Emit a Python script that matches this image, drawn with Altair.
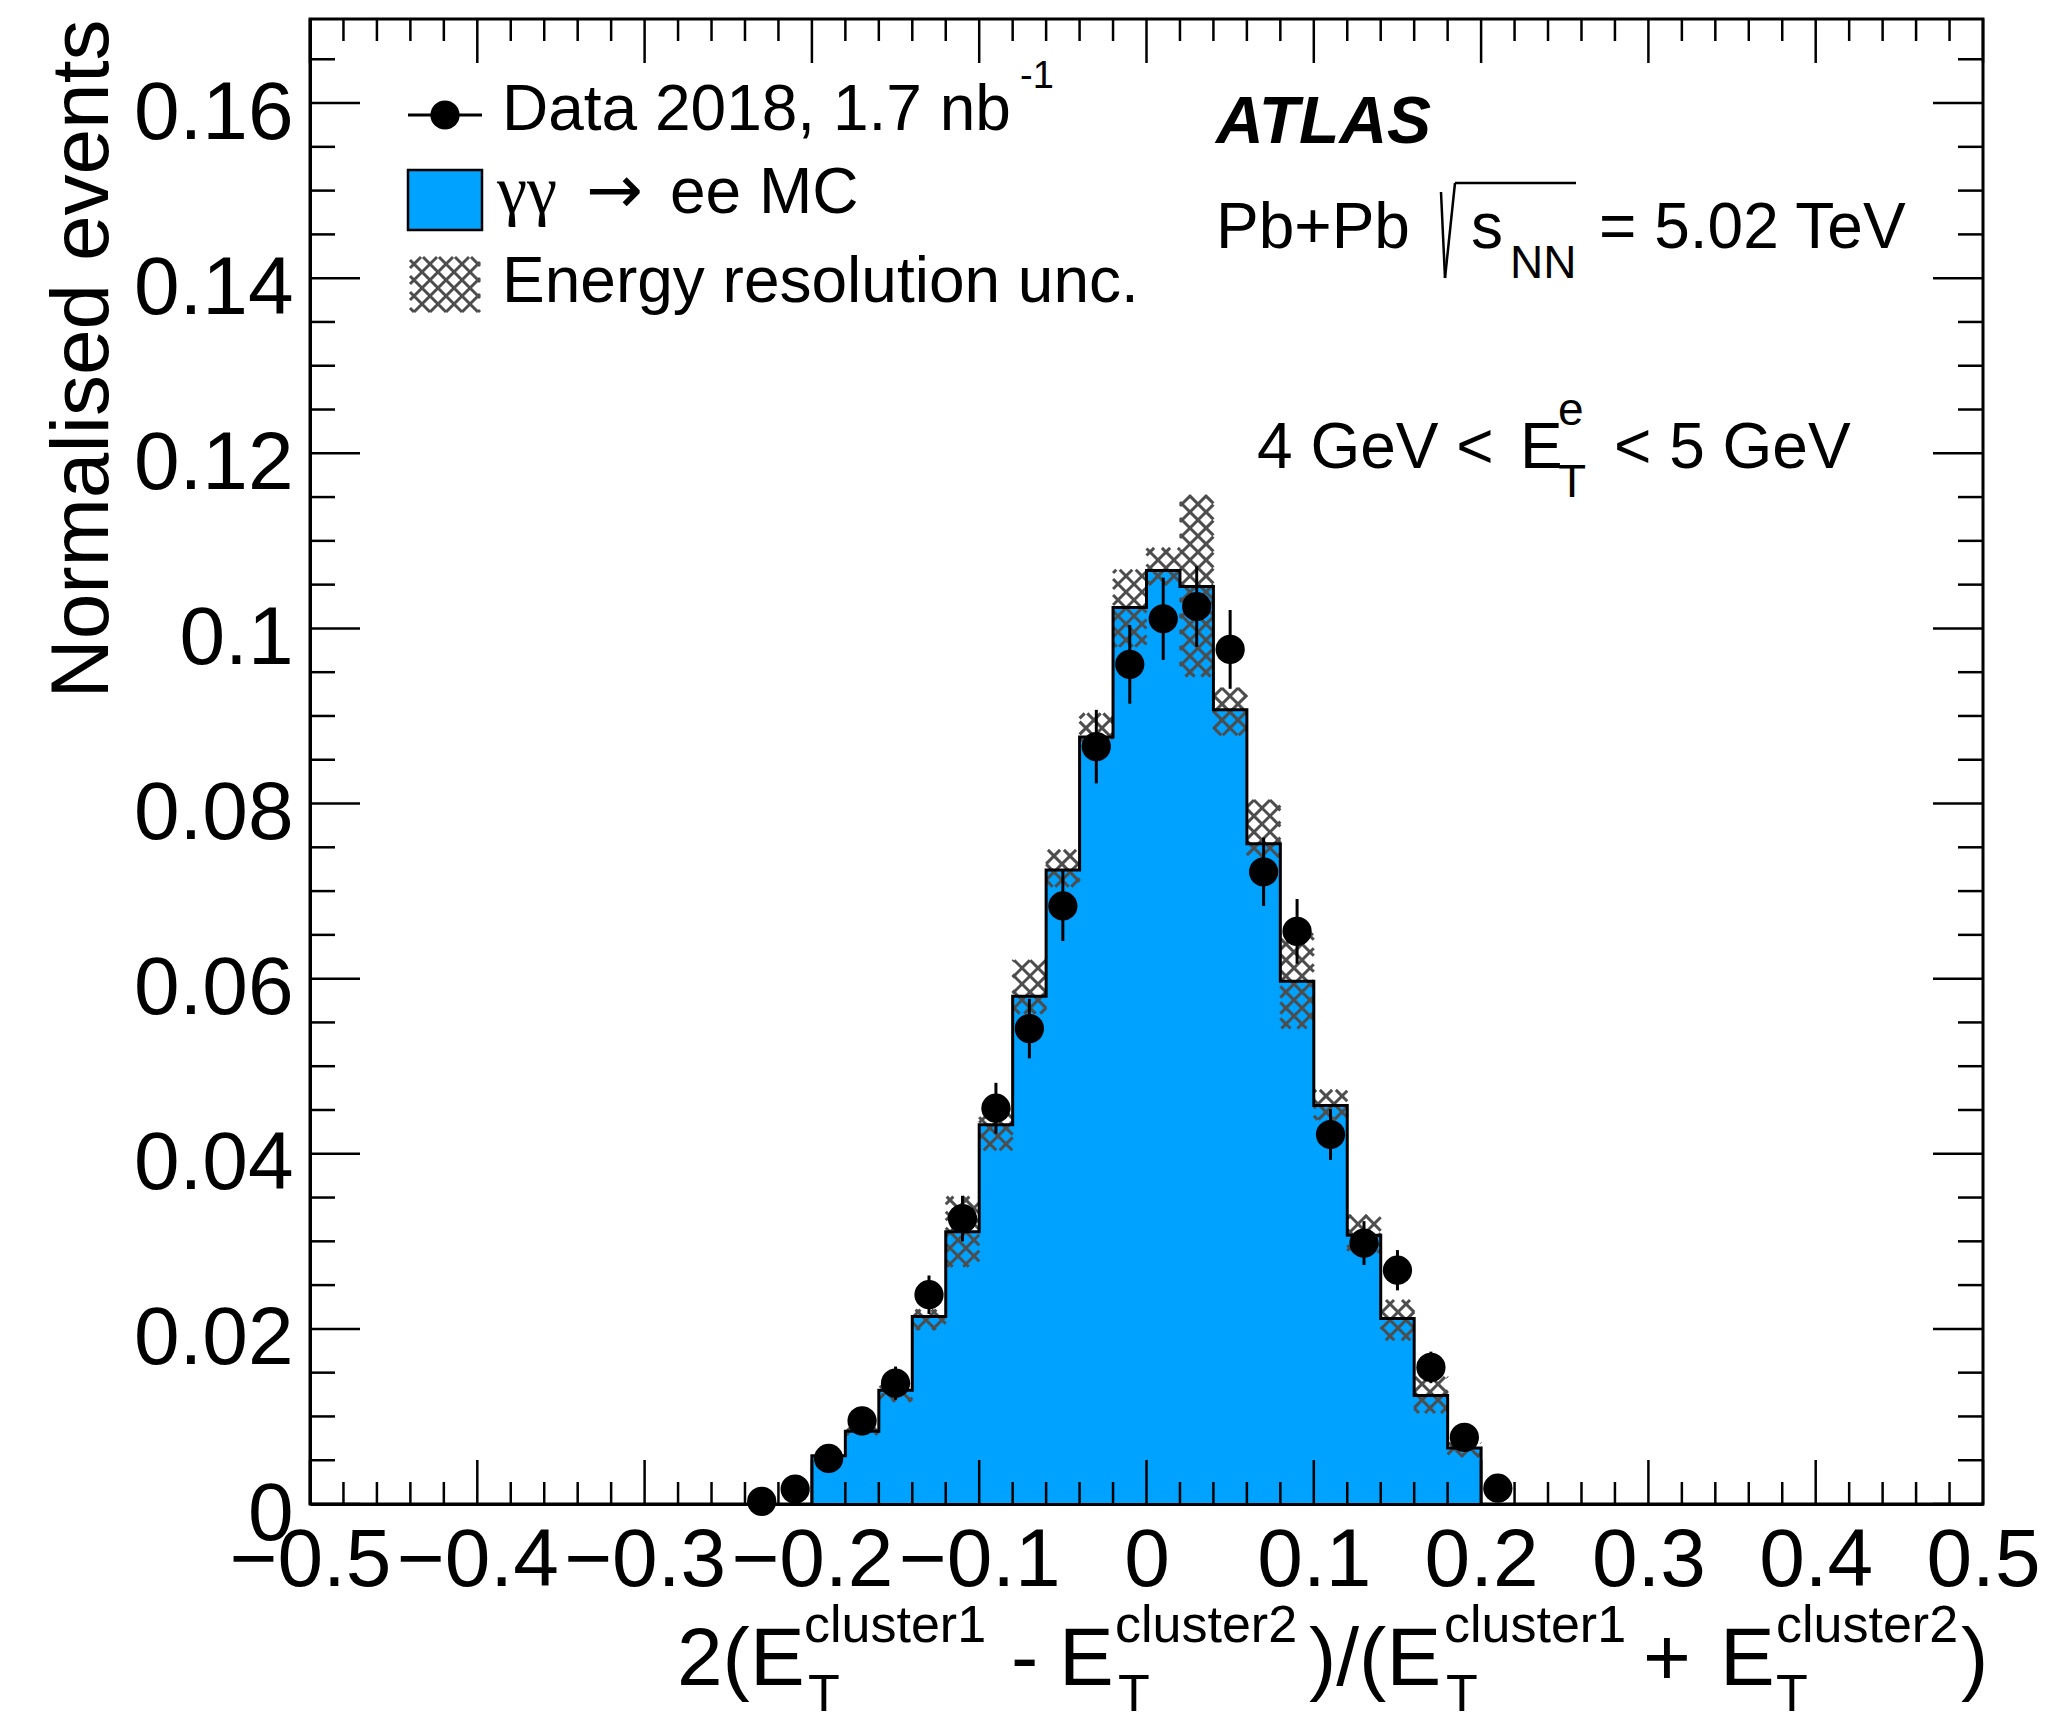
import altair as alt
import numpy as np
import pandas as pd

# ---------------- data ----------------
# MC histogram (bin lower edges, width 0.02)
mc_lo = [-0.20, -0.18, -0.16, -0.14, -0.12, -0.10, -0.08, -0.06, -0.04, -0.02,
         0.00, 0.02, 0.04, 0.06, 0.08, 0.10, 0.12, 0.14, 0.16, 0.18]
mc_val = [0.0055, 0.0083, 0.0130, 0.0214, 0.0311, 0.0433, 0.0580, 0.0724, 0.0876, 0.1024,
          0.1066, 0.1048, 0.0907, 0.0754, 0.0597, 0.0455, 0.0307, 0.0212, 0.0124, 0.0064]
# energy resolution uncertainty band
unc_lo = [0.0052, 0.0079, 0.0117, 0.0199, 0.0271, 0.0404, 0.0560, 0.0705, 0.0870, 0.0979,
          0.1050, 0.0945, 0.0878, 0.0739, 0.0543, 0.0439, 0.0287, 0.0187, 0.0104, 0.0054]
unc_hi = [0.0058, 0.0087, 0.0135, 0.0222, 0.0351, 0.0452, 0.0621, 0.0747, 0.0903, 0.1067,
          0.1092, 0.1152, 0.0932, 0.0804, 0.0652, 0.0473, 0.0330, 0.0233, 0.0145, 0.0070]
BIN_W = 0.02

# data points
data_x = [-0.23, -0.21, -0.19, -0.17, -0.15, -0.13, -0.11, -0.09, -0.07, -0.05, -0.03, -0.01,
          0.01, 0.03, 0.05, 0.07, 0.09, 0.11, 0.13, 0.15, 0.17, 0.19, 0.21]
data_y = [0.0003, 0.0017, 0.0052, 0.0095, 0.0138, 0.0239, 0.0326, 0.0452, 0.0543, 0.0683, 0.0865, 0.0959,
          0.1011, 0.1025, 0.0976, 0.0722, 0.0654, 0.0422, 0.0298, 0.0267, 0.0156, 0.0076, 0.0018]
data_err = [0.0005, 0.0007, 0.0012, 0.0016, 0.0019, 0.0022, 0.0026, 0.0029, 0.0034, 0.0040, 0.0042, 0.0045,
            0.0047, 0.0046, 0.0045, 0.0039, 0.0037, 0.0029, 0.0025, 0.0023, 0.0018, 0.0013, 0.0007]

# axis ticks / labels
x_major = [-0.5, -0.4, -0.3, -0.2, -0.1, 0.0, 0.1, 0.2, 0.3, 0.4, 0.5]
y_major = [0.0, 0.02, 0.04, 0.06, 0.08, 0.10, 0.12, 0.14, 0.16]
x_minor = [round(v, 3) for v in np.arange(-0.5, 0.5001, 0.02) if round(v * 10, 6) % 1 != 0]
y_minor = [round(v, 4) for v in np.arange(0.005, 0.1651, 0.005) if abs(round(v / 0.02) * 0.02 - v) > 1e-6]

# ---------------- geometry / style ----------------
W, H = 1673, 1485
XMIN, XMAX = -0.5, 0.5
YMIN, YMAX = 0.0, 0.1696
SX = W / (XMAX - XMIN)
SY = H / (YMAX - YMIN)
BLUE = "#00A2FF"
HATCH = "#4d4d4d"
FONT = "Liberation Sans"

xs = alt.Scale(domain=[XMIN, XMAX], nice=False, zero=False)
ys = alt.Scale(domain=[YMIN, YMAX], nice=False, zero=False)

X_AX = alt.Axis(
    values=x_major, format="~g", labelFont=FONT, labelFontSize=82, labelColor="black",
    labelPadding=16, ticks=False, tickSize=0, domain=True, domainColor="black",
    domainWidth=3, grid=False, labelFlush=False, labelOverlap=False, title="", zindex=1)
Y_AX = alt.Axis(
    values=y_major, format="~g", labelFont=FONT, labelFontSize=82, labelColor="black",
    labelPadding=17, labelOffset=10, ticks=False, tickSize=0, domain=True,
    domainColor="black", domainWidth=3, grid=False, labelOverlap=False, labelFlush=False,
    title="Normalised events", titleFont=FONT, titleFontSize=82, titleFontWeight="normal",
    titleColor="black", titleAngle=270, titleX=-203, titleY=0, titleAlign="right",
    titleBaseline="alphabetic", zindex=1)


def X(field):
    return alt.X(field, scale=xs, axis=X_AX)


def Y(field):
    return alt.Y(field, scale=ys, axis=Y_AX)


def hatch_segments(x0, x1, y0, y1, period=16.0):
    """cross-hatch lines (+-45 deg in pixel space) clipped to a data-space box"""
    X0, X1 = (x0 - XMIN) * SX, (x1 - XMIN) * SX
    Y0, Y1 = (y0 - YMIN) * SY, (y1 - YMIN) * SY
    segs = []
    for k in range(int(np.floor((Y0 - X1) / period)) - 1, int(np.ceil((Y1 - X0) / period)) + 2):
        c = k * period
        a, b = max(X0, Y0 - c), min(X1, Y1 - c)
        if b - a > 0.3:
            segs.append((a, a + c, b, b + c))
    for k in range(int(np.floor((Y0 + X0) / period)) - 1, int(np.ceil((Y1 + X1) / period)) + 2):
        c = k * period
        a, b = max(X0, c - Y1), min(X1, c - Y0)
        if b - a > 0.3:
            segs.append((a, c - a, b, c - b))
    return [dict(x=XMIN + a / SX, y=YMIN + ay / SY, x2=XMIN + b / SX, y2=YMIN + by / SY)
            for a, ay, b, by in segs]


# ---------------- histogram ----------------
area_df = pd.DataFrame({"x": mc_lo + [mc_lo[-1] + BIN_W], "y": mc_val + [mc_val[-1]]})
area = alt.Chart(area_df).mark_area(interpolate="step-after", color=BLUE, opacity=1).encode(
    x=X("x:Q"), y=Y("y:Q"))

hatch_rows = []
for lo_edge, lo, hi in zip(mc_lo, unc_lo, unc_hi):
    hatch_rows += hatch_segments(lo_edge, lo_edge + BIN_W, lo, hi)
# legend swatch for the hatch (box in pixel units converted to data space)
hatch_rows += hatch_segments(XMIN + 100 / SX, XMIN + 170 / SX, YMAX - 293 / SY, YMAX - 238 / SY)
hatch = alt.Chart(pd.DataFrame(hatch_rows)).mark_rule(color=HATCH, strokeWidth=3).encode(
    x=X("x:Q"), x2="x2:Q", y=Y("y:Q"), y2="y2:Q")

step_x = [mc_lo[0]] + mc_lo + [mc_lo[-1] + BIN_W, mc_lo[-1] + BIN_W]
step_y = [0.0] + mc_val + [mc_val[-1], 0.0]
step_df = pd.DataFrame({"x": step_x, "y": step_y, "i": range(len(step_x))})
outline = alt.Chart(step_df).mark_line(interpolate="step-after", color="black", strokeWidth=3).encode(
    x=X("x:Q"), y=Y("y:Q"), order="i:Q")


# ---------------- inward ticks on all four sides ----------------
def xticks(vals, length):
    df = pd.DataFrame({"x": vals})
    b = alt.Chart(df).mark_rule(color="black", strokeWidth=2.5).encode(
        x=X("x:Q"), y=alt.value(H), y2=alt.value(H - length))
    t = alt.Chart(df).mark_rule(color="black", strokeWidth=2.5).encode(
        x=X("x:Q"), y=alt.value(0), y2=alt.value(length))
    return [b, t]


def yticks(vals, length):
    df = pd.DataFrame({"y": vals})
    l = alt.Chart(df).mark_rule(color="black", strokeWidth=2.5).encode(
        y=Y("y:Q"), x=alt.value(0), x2=alt.value(length))
    r = alt.Chart(df).mark_rule(color="black", strokeWidth=2.5).encode(
        y=Y("y:Q"), x=alt.value(W), x2=alt.value(W - length))
    return [l, r]


ticks = xticks(x_major, 44) + xticks(x_minor, 22) + yticks(y_major, 50) + yticks(y_minor, 25)

# ---------------- data points ----------------
pts_df = pd.DataFrame({"x": data_x, "y": data_y,
                       "lo": [a - e for a, e in zip(data_y, data_err)],
                       "hi": [a + e for a, e in zip(data_y, data_err)]})
errbars = alt.Chart(pts_df).mark_rule(color="black", strokeWidth=3).encode(
    x=X("x:Q"), y=Y("lo:Q"), y2="hi:Q")
points = alt.Chart(pts_df).mark_circle(color="black", opacity=1, size=855).encode(
    x=X("x:Q"), y=Y("y:Q"))


# ---------------- text helpers ----------------
def txt(s, x, y, size, font=FONT, weight="normal", style="normal"):
    return alt.Chart(pd.DataFrame({"t": [s]})).mark_text(
        align="left", baseline="alphabetic", font=font, fontSize=size,
        fontWeight=weight, fontStyle=style, color="black").encode(
        text="t:N", x=alt.value(x), y=alt.value(y))


def seg(x, y, x2, y2, w=2.5, color="black"):
    return alt.Chart(pd.DataFrame({"a": [0]})).mark_rule(color=color, strokeWidth=w).encode(
        x=alt.value(x), x2=alt.value(x2), y=alt.value(y), y2=alt.value(y2))


texts = []
# x-axis title 2(E_T^cluster1 - E_T^cluster2)/(E_T^cluster1 + E_T^cluster2)
BL, SUP, SUB = 1666, 1623, 1692
title_pieces = [("2(E", 367, BL, 82), ("cluster1", 494, SUP, 52), ("T", 498, SUB, 52),
                ("-", 701, BL, 82), ("E", 749, BL, 82), ("cluster2", 805, SUP, 52), ("T", 808, SUB, 52),
                (")/(E", 999, BL, 82), ("cluster1", 1134, SUP, 52), ("T", 1136, SUB, 52),
                ("+", 1333, BL, 82), ("E", 1410, BL, 82), ("cluster2", 1466, SUP, 52), ("T", 1466, SUB, 52),
                (")", 1651, BL, 82)]
for s, x, y, size in title_pieces:
    texts.append(txt(s, x, y, size))

# ATLAS label block
texts.append(txt("ATLAS", 906, 124, 66, weight="bold", style="italic"))
texts.append(txt("Pb+Pb", 906, 229, 64))
texts.append(seg(1131, 173, 1135, 259))
texts.append(seg(1135, 259, 1145, 164))
texts.append(seg(1145, 164, 1266, 164))
texts.append(txt("s", 1161, 229, 64))
texts.append(txt("NN", 1200, 259, 46))
texts.append(txt("= 5.02 TeV", 1289, 229, 64))
texts.append(txt("4 GeV <", 947, 449, 64))
texts.append(txt("E", 1210, 449, 64))
texts.append(txt("e", 1248, 406, 46))
texts.append(txt("T", 1248, 478, 46))
texts.append(txt("< 5 GeV", 1304, 449, 64))

# legend
legend = []
legend.append(seg(98, 96, 172, 96, w=3))
legend.append(alt.Chart(pd.DataFrame({"a": [0]})).mark_circle(color="black", opacity=1, size=855).encode(
    x=alt.value(135), y=alt.value(96)))
legend.append(txt("Data 2018, 1.7 nb", 192, 111, 64))
legend.append(txt("-1", 710, 69, 38))
legend.append(alt.Chart(pd.DataFrame({"a": [0]})).mark_rect(
    fill=BLUE, stroke="black", strokeWidth=2.5).encode(
    x=alt.value(98), x2=alt.value(172), y=alt.value(151), y2=alt.value(211)))
legend.append(txt("γγ", 187, 194, 68, font="Liberation Serif"))
legend.append(txt("→", 276, 194, 68, font="DejaVu Sans"))
legend.append(txt("ee MC", 360, 194, 64))
legend.append(txt("Energy resolution unc.", 192, 283, 64))

chart = alt.layer(area, hatch, outline, *ticks, errbars, points, *texts, *legend).properties(
    width=W, height=H,
    autosize=alt.AutoSizeParams(type="none"),
    padding={"left": 310, "top": 19, "right": 2070 - 310 - W, "bottom": 1724 - 19 - H},
    background="white",
).configure_view(stroke="black", strokeWidth=3)

chart.save("out.html", embed_options={"renderer": "svg", "actions": False})
